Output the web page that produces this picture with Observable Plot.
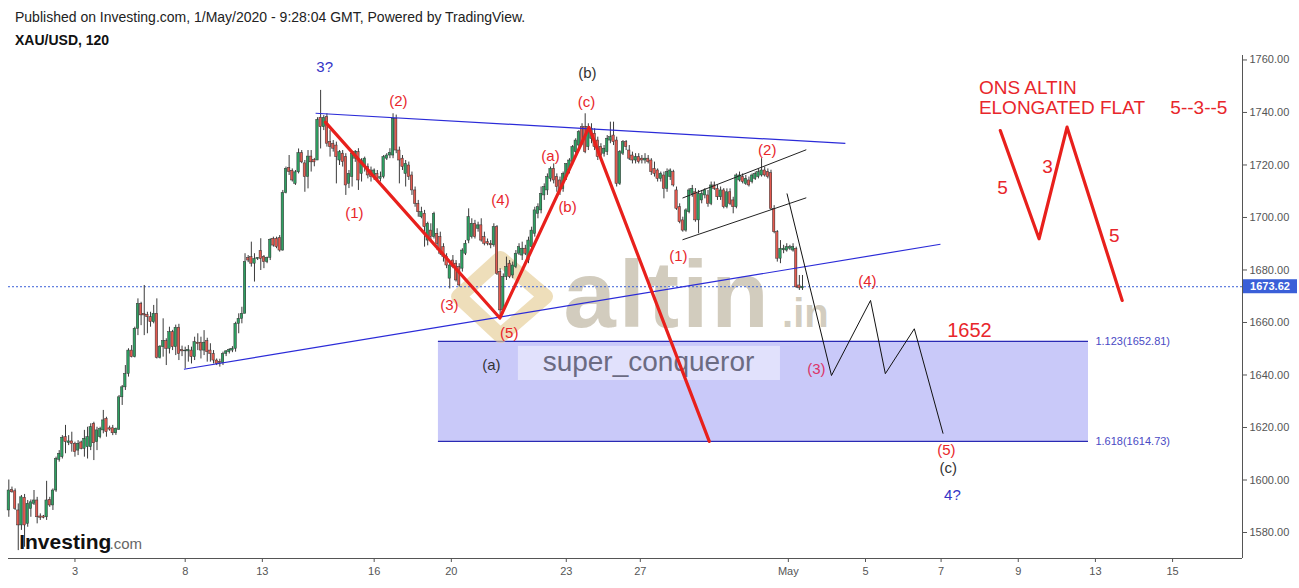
<!DOCTYPE html>
<html><head><meta charset="utf-8">
<script src="https://cdn.jsdelivr.net/npm/d3@7"></script>
<script src="https://cdn.jsdelivr.net/npm/@observablehq/plot@0.6"></script>
<style>
body{margin:0;background:#fff;font-family:"Liberation Sans",Arial,sans-serif;}
#hdr{height:55px;position:relative;}
#pub{position:absolute;left:15px;top:9px;font-size:14px;color:#222;}
#sym{position:absolute;left:15px;top:32px;font-size:14px;font-weight:bold;color:#111;}
#chart svg{display:block;}
</style></head><body>
<div id="hdr"><div id="pub">Published on Investing.com, 1/May/2020 - 9:28:04 GMT, Powered by TradingView.</div><div id="sym">XAU/USD, 120</div></div>
<div id="chart"></div>
<script>
// ---- 2h candles [open, high, low, close] ----
const candlesRally = [
[1588.4,1600.0,1585.8,1596.0],[1596.2,1597.3,1595.0,1595.3],[1595.7,1596.6,1588.4,1589.0],[1588.4,1590.9,1573.1,1582.7],
[1582.7,1594.1,1580.8,1593.4],[1593.2,1594.5,1574.4,1582.7],[1583.3,1592.2,1582.0,1590.9],[1589.0,1592.4,1585.8,1591.5],
[1590.9,1596.0,1590.3,1592.2],[1592.2,1593.4,1583.3,1585.8],[1586.1,1587.1,1584.6,1585.6],[1586.1,1586.5,1585.2,1585.6],
[1585.8,1599.5,1584.6,1592.2],[1592.4,1593.4,1589.6,1590.3],[1590.3,1596.6,1588.4,1596.0],[1596.0,1608.7,1595.3,1608.0],
[1607.7,1611.2,1606.8,1610.0],[1608.7,1616.9,1608.0,1616.1],[1616.3,1620.8,1610.0,1614.4],[1614.1,1616.9,1613.1,1614.7],
[1614.7,1618.2,1610.6,1613.8],[1613.8,1614.4,1608.7,1610.6],[1611.2,1615.0,1609.3,1613.8],[1614.3,1614.8,1611.5,1611.9],
[1611.9,1618.9,1608.7,1615.7],[1612.5,1620.1,1608.0,1616.3],[1612.5,1621.4,1611.2,1620.1],[1621.4,1622.0,1607.4,1614.0],
[1614.4,1620.1,1611.2,1618.9],[1616.3,1620.1,1615.7,1619.4],[1618.9,1626.5,1617.6,1622.7],[1623.3,1623.9,1616.3,1618.2],
[1619.7,1620.5,1618.6,1619.2],[1619.7,1620.8,1616.9,1617.8],[1617.8,1619.8,1617.0,1619.5],[1619.1,1632.2,1618.9,1631.5],
[1631.5,1636.0,1628.4,1635.3],[1635.3,1643.6,1634.1,1640.4],[1640.4,1650.0,1639.2,1649.3],[1649.3,1651.2,1646.5,1646.8],
[1646.8,1658.2,1646.5,1657.6],[1657.6,1669.0,1655.0,1667.1],[1667.1,1667.7,1658.8,1662.7],[1663.3,1674.1,1655.0,1662.7],
[1662.9,1663.9,1655.7,1662.0],[1662.0,1663.9,1658.2,1660.1],[1660.1,1666.5,1659.5,1663.3],[1663.3,1669.0,1646.1,1646.5],
[1646.5,1651.2,1646.1,1650.8],[1650.6,1661.4,1646.8,1652.9],[1652.9,1653.8,1643.6,1650.0],
[1650.0,1658.2,1648.0,1656.3],[1656.3,1657.0,1649.3,1650.6],[1650.6,1659.0,1647.4,1658.0],[1658.0,1659.3,1645.5,1648.0],
[1649.5,1651.0,1647.0,1649.0],[1649.0,1650.6,1642.3,1649.3],[1649.0,1651.2,1644.9,1649.6],[1649.3,1650.6,1644.2,1646.8],
[1646.8,1654.4,1645.5,1652.5],[1652.3,1655.7,1649.3,1651.8],[1652.3,1654.4,1646.1,1649.3],[1649.3,1656.9,1647.4,1652.3],
[1652.9,1654.0,1644.9,1648.7],[1649.3,1651.9,1644.9,1648.0],[1648.0,1649.3,1644.2,1645.5],[1645.5,1646.1,1643.6,1644.2],
[1645.0,1646.0,1643.0,1644.5],[1644.5,1648.7,1643.6,1648.0],[1648.0,1649.3,1647.0,1649.0],[1648.7,1650.0,1648.0,1649.6],
[1649.3,1650.8,1648.5,1650.0],[1650.0,1660.1,1648.7,1659.5],[1659.5,1663.3,1655.7,1661.4],[1661.4,1665.8,1659.5,1663.3],
[1663.3,1686.2,1663.3,1683.0],[1684.6,1685.5,1682.8,1683.6],[1684.9,1690.6,1681.1,1682.4],[1682.4,1686.2,1675.4,1684.2],
[1684.2,1684.6,1683.6,1684.6],[1687.2,1691.9,1679.8,1684.2],[1684.9,1685.5,1680.5,1683.0],[1683.0,1684.9,1682.4,1684.6],
[1684.6,1691.9,1683.6,1691.5],[1691.9,1692.5,1688.7,1689.3],[1691.9,1692.5,1688.1,1688.7],[1692.2,1693.1,1686.8,1687.4],
[1687.4,1710.3,1687.2,1709.3],[1709.3,1719.2,1709.0,1718.5],[1718.9,1723.6,1716.0,1717.3],[1717.8,1718.5,1713.5,1714.1],
[1712.8,1717.9,1712.2,1717.2],[1717.2,1726.1,1716.6,1724.5],[1724.5,1725.5,1720.5,1721.0],[1720.6,1721.7,1709.6,1715.4],
[1715.4,1725.5,1710.9,1723.2],[1723.2,1725.5,1717.3,1721.0],[1721.9,1722.5,1719.3,1721.0],[1721.7,1738.0,1721.7,1737.2],
[1738.0,1748.4,1726.1,1734.4],[1734.4,1738.8,1733.1,1737.9],[1738.2,1739.5,1726.8,1728.1]
];
const candlesWaveA = [
[1728.7,1733.1,1723.0,1726.8],[1728.1,1729.3,1724.9,1726.2],[1727.4,1728.7,1712.8,1723.0],[1721.7,1725.5,1719.8,1724.9],
[1724.3,1725.5,1719.2,1721.1],[1723.0,1724.3,1708.4,1712.2],[1712.8,1717.9,1711.0,1716.6],[1715.4,1724.9,1711.6,1724.3],
[1722.4,1725.5,1721.0,1724.9],[1724.9,1726.2,1710.3,1714.1],[1716.6,1722.4,1713.5,1721.7],[1719.2,1723.0,1717.3,1722.4],
[1719.2,1720.4,1714.7,1716.0],[1717.9,1719.2,1713.5,1715.4],[1715.4,1718.5,1714.1,1717.9],[1716.6,1717.9,1714.1,1714.7],
[1714.7,1717.3,1713.5,1715.4],[1715.4,1723.6,1714.7,1723.0],[1722.4,1724.3,1721.7,1723.6],[1723.6,1726.2,1722.4,1724.6],
[1723.6,1739.5,1722.4,1737.6],[1737.6,1739.0,1724.3,1725.5],[1725.5,1726.8,1712.8,1721.7],[1722.4,1723.6,1717.9,1719.2],
[1716.6,1721.7,1711.6,1720.4],[1719.8,1721.1,1714.1,1715.4],[1716.0,1717.3,1708.4,1710.3],[1710.3,1711.6,1703.9,1705.2],
[1705.2,1706.5,1700.1,1702.0],[1700.1,1703.9,1699.5,1702.0],[1701.4,1702.7,1688.7,1696.3],[1691.2,1698.2,1689.2,1697.6],
[1695.0,1697.6,1691.2,1692.5],[1692.5,1702.0,1691.8,1701.4],[1693.8,1695.7,1687.4,1690.0],[1692.5,1694.4,1685.5,1686.2],
[1688.7,1690.0,1683.0,1684.9],[1684.9,1686.2,1680.5,1681.7],[1676.7,1683.0,1672.8,1681.7],[1683.6,1685.5,1680.5,1681.1],
[1682.4,1683.6,1675.4,1676.0],[1681.1,1682.4,1673.5,1674.1],[1680.5,1688.1,1679.2,1687.4],[1686.2,1691.2,1685.5,1690.0],
[1691.2,1703.3,1690.0,1700.1],[1692.5,1699.5,1691.8,1697.6],[1697.6,1698.9,1691.8,1692.5],[1695.7,1698.2,1694.4,1697.0],
[1697.0,1699.5,1690.6,1691.2],[1692.5,1694.4,1689.2,1690.0],[1690.6,1691.8,1689.2,1690.0],[1690.0,1691.2,1688.1,1689.4],
[1689.4,1697.6,1688.7,1696.3],[1696.3,1696.9,1677.9,1678.5],[1679.2,1680.5,1662.7,1664.6]
];
const candlesWaveB = [
[1664.6,1678.5,1663.3,1677.3],[1677.3,1684.9,1676.0,1681.1],[1682.4,1683.6,1676.7,1677.3],[1677.9,1683.0,1676.7,1681.7],
[1681.1,1687.4,1680.5,1686.2],[1686.2,1690.0,1685.5,1688.7],[1685.5,1690.6,1683.6,1688.1],[1688.1,1689.4,1685.5,1686.2],
[1683.6,1692.5,1682.4,1691.2],[1688.7,1696.3,1687.4,1695.0],[1693.8,1703.9,1692.5,1702.7],[1701.4,1705.2,1699.5,1703.9],
[1702.7,1711.6,1701.4,1709.0],[1708.4,1712.8,1706.5,1711.6],[1710.3,1716.6,1708.4,1715.4],[1714.7,1719.2,1713.5,1718.5],
[1718.5,1720.4,1712.8,1714.1],[1715.4,1716.6,1709.6,1711.6],[1714.1,1715.4,1708.4,1710.3],[1710.9,1717.3,1709.6,1716.6],
[1715.4,1720.4,1714.1,1720.4],[1717.9,1722.4,1716.6,1721.7],[1721.1,1727.4,1719.8,1726.8],[1724.9,1730.0,1723.6,1729.3],
[1727.4,1733.1,1726.2,1732.5],[1734.4,1735.7,1727.4,1728.1],[1734.4,1739.5,1724.3,1724.9]
];
const candlesWaveC = [
[1726.8,1735.7,1725.5,1734.4],[1729.9,1735.7,1728.1,1733.8],[1731.9,1733.8,1725.5,1726.8],[1729.3,1730.6,1721.7,1723.0],
[1726.8,1728.1,1723.0,1723.6],[1724.3,1727.4,1723.0,1726.2],[1724.9,1731.2,1723.6,1730.0],[1729.3,1736.3,1728.1,1730.6],
[1731.2,1736.3,1727.4,1728.7],[1729.3,1730.6,1711.6,1712.8],[1712.8,1725.5,1712.2,1724.9],[1724.3,1729.3,1723.6,1728.7],
[1728.7,1729.3,1725.5,1726.8],[1725.5,1727.4,1721.7,1722.4],[1723.6,1724.9,1720.4,1721.7],[1721.7,1724.3,1720.4,1723.0],
[1723.0,1724.3,1720.4,1721.1],[1722.4,1723.6,1720.4,1721.7],[1721.7,1724.3,1720.4,1722.4],[1722.4,1723.6,1720.4,1721.1],
[1721.7,1722.4,1716.0,1717.3],[1718.5,1721.1,1715.4,1716.6],[1717.9,1718.5,1713.5,1714.7],[1714.7,1717.3,1713.5,1716.6],
[1716.0,1717.3,1707.1,1710.9],[1710.9,1718.5,1709.6,1717.3],[1715.4,1718.5,1714.1,1717.9],[1717.3,1718.0,1711.6,1712.2],
[1710.3,1711.6,1702.7,1703.3],[1703.9,1705.2,1697.6,1698.2],[1698.9,1700.1,1694.4,1695.0],[1695.0,1703.3,1694.4,1702.7],
[1702.0,1711.0,1701.4,1710.3],[1709.0,1712.2,1707.7,1710.9],[1709.6,1711.0,1698.2,1698.9],[1698.9,1710.3,1693.8,1709.0],
[1706.5,1710.3,1705.2,1709.0],[1708.4,1711.0,1707.1,1710.3],[1708.4,1710.3,1703.9,1705.2],[1705.2,1713.5,1704.5,1712.2],
[1712.2,1713.5,1710.3,1710.9],[1710.9,1712.2,1706.5,1707.7],[1707.7,1711.6,1706.5,1710.3],[1710.3,1711.0,1703.3,1703.9],
[1703.9,1710.9,1703.3,1709.6],[1709.6,1710.9,1704.5,1705.2],[1706.5,1707.7,1701.4,1703.9],[1703.9,1716.6,1703.3,1716.0],
[1714.1,1717.3,1713.5,1716.0],[1715.4,1716.6,1712.8,1713.5],[1712.8,1716.0,1712.2,1714.7],[1714.1,1715.4,1711.6,1712.2],
[1713.5,1716.6,1712.8,1716.0],[1714.7,1717.3,1714.1,1716.6],[1715.4,1718.5,1714.7,1717.3],[1716.0,1722.4,1715.4,1717.9],
[1717.9,1719.2,1715.4,1716.0],[1717.3,1718.5,1714.7,1715.4],[1716.9,1718.0,1702.7,1703.3],[1703.3,1704.5,1693.8,1694.4],
[1694.4,1695.0,1683.0,1684.3],[1684.3,1691.2,1682.4,1688.1],[1687.5,1689.4,1686.2,1688.1],[1687.4,1690.0,1686.8,1688.7],
[1688.1,1689.4,1687.4,1688.7],[1687.4,1690.0,1686.8,1688.7],[1688.0,1688.7,1673.0,1673.4],[1674.1,1677.9,1672.2,1673.0],
[1673.0,1677.9,1672.2,1673.62]
];
const lastPrice = 1673.62;

// ---- axes ----
const priceTicks = [1580,1600,1620,1640,1660,1680,1700,1720,1740,1760];
const dateTickPos = [21,56,80.5,116,140.5,177,200.5,247.5,272,296,320.5,345,369.5];
const dateTickLabel = ["3","8","13","16","20","23","27","May","5","7","9","13","15"];

// ---- drawings (bar index, price) ----
const waveRedX = [100.5,155.9,184.2,222.4];
const waveRedY = [1736.3,1661.7,1734.3,1614.7];
const flatX = [314.8,327.1,336.0,353.5];
const flatY = [1733.1,1691.9,1734.4,1668.4];
const projX = [247.1,261.2,273.6,278.3,287.5,296.6];
const projY = [1709.0,1639.8,1668.4,1640.5,1657.6,1617.8];
const trendLines = [
  {x1:97.4,y1:1739.7,x2:265.6,y2:1728.2},
  {x1:55.6,y1:1642.2,x2:295.8,y2:1689.8}
];
const channelLines = [
  {x1:213.9,y1:1707.4,x2:253.2,y2:1725.8},
  {x1:213.9,y1:1691.5,x2:253.2,y2:1707.5}
];
const fibStart = 136.4, fibEnd = 342.8;
const fibLevels = [1652.81, 1614.73];
const fibLabels = ["1.123(1652.81)", "1.618(1614.73)"];

const redLabelText = ["(2)","(c)","(1)","(a)","(b)","(4)","(3)","(5)","(1)","(2)","(4)","(5)"];
const redLabelX = [123.7,183.4,109.7,172.0,177.4,156.1,139.9,158.9,212.6,240.8,272.6,297.7];
const redLabelY = [1744.2,1743.8,1701.5,1723.2,1703.8,1706.5,1666.5,1655.8,1685.1,1725.5,1675.6,1611.2];
const blackLabelText = ["(b)","(a)","(c)"];
const blackLabelX = [183.7,153.2,298.3];
const blackLabelY = [1754.9,1643.6,1604.4];
const blueLabelText = ["3?","4?"];
const blueLabelX = [100.3,299.6];
const blueLabelY = [1757.1,1594.1];
const flatDigitText = ["5","3","5"];
const flatDigitX = [315.5,329.8,351.0];
const flatDigitY = [1711.4,1719.4,1693.1];

const bars = [...candlesRally, ...candlesWaveA, ...candlesWaveB, ...candlesWaveC]
  .map((r, i) => ({i, o: r[0], h: r[1], l: r[2], c: r[3]}));
const toPts = (xs, ys) => xs.map((x, k) => ({x, y: ys[k]}));
const lab = (t, xs, ys) => t.map((s, k) => ({s, x: xs[k], y: ys[k]}));
const tickMap = new Map(dateTickPos.map((p, k) => [p, dateTickLabel[k]]));
const FONT = "Liberation Sans, Arial, sans-serif";
const RED = "#e8262b";
const xMin = -0.1, xMax = 391.7, yMin = 1570.1, yMax = 1761.7;

const plot = Plot.plot({
  width: 1299, height: 533,
  marginLeft: 8, marginRight: 57, marginTop: 0, marginBottom: 30,
  x: {domain: [xMin, xMax]},
  y: {domain: [yMin, yMax]},
  style: {fontFamily: FONT, color: "#555", background: "white", overflow: "hidden"},
  marks: [
    // fib zone
    Plot.rect([0], {x1: fibStart, x2: fibEnd, y1: fibLevels[1], y2: fibLevels[0], fill: "#c9c9f9"}),
    Plot.ruleY(fibLevels, {x1: fibStart, x2: fibEnd, stroke: "#2a2ab4", strokeWidth: 1.3}),
    Plot.text(lab(fibLabels, [fibEnd + 2.2, fibEnd + 2.2], fibLevels), {x: "x", y: "y", text: "s", textAnchor: "start", fill: "#4a4ac4", fontSize: 11, fontFamily: FONT}),
    // watermark
    Plot.line(toPts([156.1,170.4,156.1,142.8,156.1],[1684.4,1669.9,1655.0,1669.9,1684.4]), {x: "x", y: "y", stroke: "#e5cd95", strokeWidth: 15, strokeOpacity: 0.65, strokeLinejoin: "round"}),
    Plot.text(["altin"], {x: 176.1, y: 1658.1, text: d => d, textAnchor: "start", lineAnchor: "bottom", fontSize: 94, fontWeight: "bold", fill: "#c7bfae", fillOpacity: 0.8, fontFamily: FONT}),
    Plot.text([".in"], {x: 245.5, y: 1658.1, text: d => d, textAnchor: "start", lineAnchor: "bottom", fontSize: 40, fontWeight: "bold", fill: "#c7bfae", fillOpacity: 0.8, fontFamily: FONT}),
    Plot.rect([0], {x1: 161.8, x2: 245.0, y1: 1637.9, y2: 1650.9, fill: "white", fillOpacity: 0.45}),
    Plot.text(["super_conqueror"], {x: 203.1, y: 1644.8, text: d => d, fontSize: 28, fill: "#6b6b82", fontFamily: FONT}),
    // price line
    Plot.ruleY([lastPrice], {stroke: "#3a5fd8", strokeDasharray: "2,2", strokeWidth: 1}),
    // candles
    Plot.ruleX(bars, {x: "i", y1: "l", y2: "h", stroke: "#3b3b3b", strokeWidth: 1}),
    Plot.rect(bars, {x1: d => d.i - 0.38, x2: d => d.i + 0.38, y1: "o", y2: "c",
      fill: d => d.c >= d.o ? "#2ea062" : "#e3594f", stroke: "#2f2f2f", strokeWidth: 0.5}),
    // trend lines
    Plot.link(trendLines, {x1: "x1", y1: "y1", x2: "x2", y2: "y2", stroke: "#2b2bd8", strokeWidth: 1.2}),
    Plot.link(channelLines, {x1: "x1", y1: "y1", x2: "x2", y2: "y2", stroke: "#222", strokeWidth: 1}),
    Plot.line(toPts(projX, projY), {x: "x", y: "y", stroke: "#111", strokeWidth: 1}),
    Plot.line(toPts(waveRedX, waveRedY), {x: "x", y: "y", stroke: "#e8201c", strokeWidth: 3.2}),
    Plot.line(toPts(flatX, flatY), {x: "x", y: "y", stroke: "#e8201c", strokeWidth: 3.2}),
    // labels
    Plot.text(lab(redLabelText, redLabelX, redLabelY), {x: "x", y: "y", text: "s", fill: RED, fontSize: 15, fontFamily: FONT}),
    Plot.text(["(3)"], {x: 256.4, y: 1642.1, text: d => d, fill: "#dc3468", fontSize: 15, fontFamily: FONT}),
    Plot.text(lab(blackLabelText, blackLabelX, blackLabelY), {x: "x", y: "y", text: "s", fill: "#333", fontSize: 15, fontFamily: FONT}),
    Plot.text(lab(blueLabelText, blueLabelX, blueLabelY), {x: "x", y: "y", text: "s", fill: "#3434c6", fontSize: 15, fontFamily: FONT}),
    Plot.text(["1652"], {x: 305.0, y: 1657.0, text: d => d, fill: RED, fontSize: 20, fontFamily: FONT}),
    Plot.text(["ONS ALTIN", "ELONGATED FLAT"], {x: 308.0, y: (d, k) => [1749.5, 1741.9][k], text: d => d, textAnchor: "start", fill: RED, fontSize: 19, fontFamily: FONT}),
    Plot.text(["5--3--5"], {x: 368.8, y: 1741.9, text: d => d, textAnchor: "start", fill: RED, fontSize: 19, fontFamily: FONT}),
    Plot.text(lab(flatDigitText, flatDigitX, flatDigitY), {x: "x", y: "y", text: "s", fill: RED, fontSize: 19, fontFamily: FONT}),
    // investing logo
    Plot.text(["Investing"], {x: 3.3, y: 1573.9, text: d => d, textAnchor: "start", lineAnchor: "bottom", fontSize: 21, fontWeight: "bold", fill: "#111", fontFamily: FONT}),
    Plot.text([".com"], {x: 32.0, y: 1573.9, text: d => d, textAnchor: "start", lineAnchor: "bottom", fontSize: 15, fill: "#666", fontFamily: FONT}),
    // axes
    Plot.ruleX([xMax], {stroke: "#555"}),
    Plot.ruleY([yMin], {stroke: "#555"}),
    Plot.axisY({anchor: "right", ticks: priceTicks, tickFormat: d => d.toFixed(2), tickSize: 4, tickPadding: 3, fontSize: 11, label: null}),
    Plot.axisX({anchor: "bottom", ticks: dateTickPos, tickFormat: d => tickMap.get(d), tickSize: 4, tickPadding: 5, fontSize: 11, label: null})
  ]
});
document.getElementById("chart").appendChild(plot);

const svg = d3.select(plot);
// widen the watermark lettering slightly
svg.selectAll("text").filter(function() { return this.textContent === "altin"; }).attr("letter-spacing", 3);
// last price tag on the axis
const yPx = plot.scale("y").apply(lastPrice);
const xPx = plot.scale("x").apply(xMax);
svg.append("rect").attr("x", xPx + 1).attr("y", yPx - 7).attr("width", 54).attr("height", 14).attr("fill", "#3a5fd8");
svg.append("text").attr("x", xPx + 28).attr("y", yPx + 4).attr("text-anchor", "middle")
  .attr("fill", "white").attr("font-size", 11).attr("font-weight", "bold").attr("font-family", FONT).text(lastPrice.toFixed(2));
</script>
</body></html>
